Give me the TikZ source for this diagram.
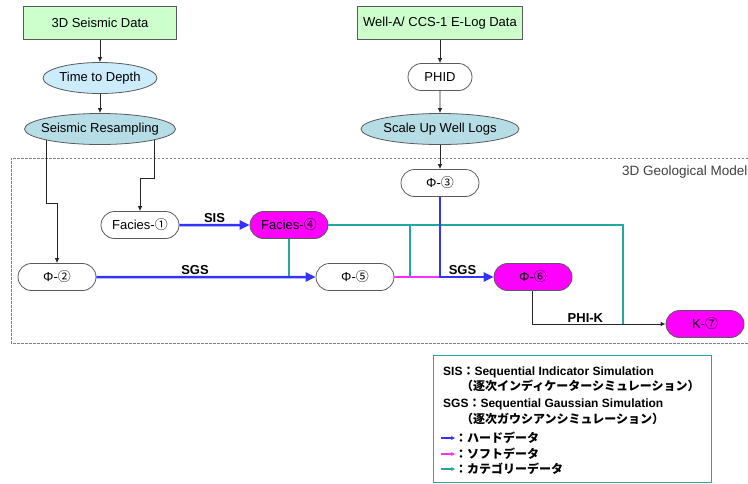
\documentclass[tikz,border=0pt]{standalone}
\usepackage{fontspec}
\setmainfont{Liberation Sans}
\newfontfamily\jp{Noto Sans CJK JP}
\usetikzlibrary{shapes.geometric,shapes.misc,arrows.meta}

\definecolor{datagreen}{HTML}{CCFFCC}
\definecolor{depthblue}{HTML}{CCEBFB}
\definecolor{resampteal}{HTML}{B6DDE6}
\definecolor{edgegray}{HTML}{5A5A5A}
\definecolor{hardblue}{HTML}{3333FF}
\definecolor{softpink}{HTML}{FF2EFF}
\definecolor{catteal}{HTML}{22A8A4}
\definecolor{simmagenta}{HTML}{FF00FF}

\tikzset{
  databox/.style={rectangle, draw=edgegray, line width=0.8pt, fill=datagreen,
    minimum width=153pt, minimum height=33pt, inner sep=1pt},
  procoval/.style={ellipse, draw=edgegray, line width=0.8pt, minimum height=31pt,
    inner xsep=-7pt, inner ysep=1pt},
  stage/.style={rounded rectangle, draw=edgegray, line width=0.8pt, fill=white,
    minimum width=80pt, minimum height=27pt, inner sep=1pt},
  simstage/.style={stage, fill=simmagenta},
  blk/.style={draw=black!85, line width=0.8pt, -{Latex[length=5pt,width=4.5pt]}},
  hard/.style={draw=hardblue, line width=2.5pt, -{Triangle[length=10pt,width=9pt]}},
  soft/.style={draw=softpink, line width=1.3pt},
  cat/.style={draw=catteal, line width=1.3pt},
  lbl/.style={font=\fontsize{13}{15}\selectfont\bfseries, inner sep=1.5pt},
  frame/.style={draw=gray, line width=0.8pt, dash pattern=on 2.5pt off 1.5pt},
  legtxt/.style={anchor=west, inner sep=0pt, font=\fontsize{12}{14}\selectfont\bfseries},
  legjp/.style={legtxt, font=\fontsize{12}{14}\selectfont\bfseries\jp},
  keyarrow/.style={line width=1.3pt, -{Stealth[length=4pt,width=4pt]}},
}

\begin{document}
\begin{tikzpicture}[x=1pt, y=-1pt, font=\fontsize{13}{15}\selectfont]
  \useasboundingbox (0,0) rectangle (748,483);

  % model frame
  \draw[frame] (748,158) -- (11,158) -- (11,343) -- (748,343);
  \node[anchor=west, inner sep=0pt, text=black!75, font=\fontsize{13.5}{15}\selectfont] (modeltitle) at (622,172) {3D Geological Model};

  % seismic branch
  \node[databox] (seis) at (100,23) {3D Seismic Data};
  \node[procoval, fill=depthblue, minimum width=114pt] (t2d) at (100,78) {Time to Depth};
  \node[procoval, fill=resampteal, minimum width=151pt] (resamp) at (100,129) {Seismic Resampling};

  % well branch
  \node[databox, minimum width=165pt] (well) at (440,23) {Well-A/ CCS-1 E-Log Data};
  \node[stage, minimum width=66pt] (phid) at (440,77) {PHID};
  \node[procoval, fill=resampteal, minimum width=158pt] (scale) at (440,129) {Scale Up Well Logs};

  % model cells
  \node[stage] (phi3) at (440,183) {Φ-{\jp ③}};
  \node[stage] (fac1) at (140,225) {Facies-{\jp ①}};
  \node[simstage] (fac4) at (289,225) {Facies-{\jp ④}};
  \node[stage] (phi2) at (57,277) {Φ-{\jp ②}};
  \node[stage] (phi5) at (355,277) {Φ-{\jp ⑤}};
  \node[simstage] (phi6) at (533,277) {Φ-{\jp ⑥}};
  \node[simstage] (k7) at (705,324) {K-{\jp ⑦}};

  % input arrows
  \draw[blk] (seis) -- (t2d);
  \draw[blk] (t2d) -- (resamp);
  \draw[blk] (well) -- (phid);
  \draw[blk] (phid) -- (scale);
  \draw[blk] (scale) -- (phi3);
  \coordinate (rsL) at (46,140);
  \coordinate (jogL) at (46,203);
  \coordinate (rsR) at (154,140);
  \coordinate (jogR) at (154,178);
  \draw[blk] (rsL) -- (jogL) -| (phi2.north);
  \draw[blk] (rsR) -- (jogR) -| (fac1.north);

  % category data
  \coordinate (catM) at (410,225);
  \coordinate (catR) at (623,225);
  \draw[cat] (fac4.south) -- (fac4.south |- phi2.east);
  \draw[cat] (fac4.east) -- (catR) -- (catR |- k7.west);
  \draw[cat] (catM) -- (catM |- phi5.east);

  % soft data
  \draw[soft] (phi5.east) -- (phi3.south |- phi5.east);

  % hard data
  \draw[hard] (fac1) -- node[lbl, above] {SIS} (fac4);
  \draw[hard] (phi2) -- node[lbl, above, pos=0.45] {SGS} (phi5);
  \draw[hard] (phi3.south) |- node[lbl, above, pos=0.71] {SGS} (phi6.west);
  \draw[blk] ([xshift=-1pt]phi6.south) |- node[lbl, above, pos=0.7] {PHI-K} (k7.west);

  % legend
  \node[draw=catteal, line width=1pt, anchor=north west, inner sep=0pt,
    minimum width=278pt, minimum height=127pt] (legend) at (433,355) {};
  \node[legtxt] (sisline) at (443,372) {SIS{\jp ：}Sequential Indicator Simulation};
  \node[legjp] (sisjp) at (461,386) {（逐次インディケーターシミュレーション）};
  \node[legtxt] (sgsline) at (443,404) {SGS{\jp ：}Sequential Gaussian Simulation};
  \node[legjp] (sgsjp) at (461,419) {（逐次ガウシアンシミュレーション）};
  \node[legjp] (hardkey) at (455,438) {：ハードデータ};
  \node[legjp] (softkey) at (455,454) {：ソフトデータ};
  \node[legjp] (catkey) at (455,469) {：カテゴリーデータ};
  \coordinate (hardtail) at (441,438);
  \coordinate (softtail) at (441,454);
  \coordinate (cattail) at (441,469);
  \draw[keyarrow, hardblue] (hardtail) -- (hardkey.west);
  \draw[keyarrow, softpink] (softtail) -- (softkey.west);
  \draw[keyarrow, catteal] (cattail) -- (catkey.west);
\end{tikzpicture}
\end{document}
